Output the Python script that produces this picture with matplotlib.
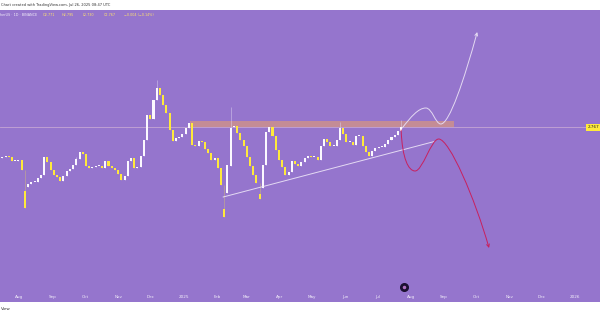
import matplotlib
matplotlib.use('Agg')
import matplotlib.pyplot as plt
import matplotlib.dates as mdates
from matplotlib.path import Path
from matplotlib.patches import FancyArrowPatch, Rectangle
import numpy as np
import pandas as pd

# 3-day candles (closes), first candle starts 2024-07-13
candle_start = '2024-07-13'
candle_step_days = 3
first_open = 2.47
closes = [
    2.46, 2.47, 2.48, 2.47, 2.43, 2.43, 2.44, 2.34, 2.17, 2.20,
    2.22, 2.22, 2.26, 2.29, 2.47, 2.42, 2.34, 2.29, 2.27, 2.23,
    2.28, 2.33, 2.35, 2.39, 2.45, 2.52, 2.50, 2.38, 2.36, 2.37,
    2.38, 2.38, 2.36, 2.43, 2.38, 2.36, 2.34, 2.30, 2.24, 2.28,
    2.43, 2.46, 2.36, 2.37, 2.48, 2.64, 2.89, 2.85, 3.04, 3.16,
    3.09, 2.99, 2.91, 2.74, 2.63, 2.66, 2.67, 2.70, 2.76, 2.81,
    2.59, 2.58, 2.63, 2.62, 2.55, 2.51, 2.44, 2.46, 2.36, 2.19,
    2.11, 2.39, 2.77, 2.78, 2.71, 2.64, 2.58, 2.47, 2.38, 2.29,
    2.21, 2.16, 2.39, 2.72, 2.77, 2.68, 2.54, 2.44, 2.37, 2.29,
    2.32, 2.43, 2.40, 2.38, 2.42, 2.46, 2.48, 2.47, 2.47, 2.44,
    2.58, 2.65, 2.62, 2.58, 2.58, 2.64, 2.76, 2.70, 2.62, 2.62,
    2.59, 2.68, 2.68, 2.58, 2.52, 2.48, 2.53, 2.56, 2.57, 2.57,
    2.60, 2.64, 2.67, 2.69, 2.73, 2.77, 2.767,
]
# long wicks that stand out
spike_idx = [8, 24, 49, 70, 72, 81, 106, 125]
spike_high = [2.20, 2.47, 3.24, 2.19, 2.97, 2.21, 2.82, 2.84]
spike_low = [1.96, 2.42, 3.09, 1.87, 2.38, 2.05, 2.70, 2.73]

last_price = 2.767
header_ticker = 'herUS · 1D · BINANCE'
header_values = ['O2.771', 'H2.795', 'L2.730', 'C2.767', '−0.004 (−0.14%)']

# resistance zone and drawings
zone_dates = ['2025-01-07', '2025-09-10']
zone_prices = [2.77, 2.83]
trend_dates = ['2025-02-07', '2025-08-23']
trend_prices = [2.07, 2.625]
# bullish / bearish projections (cubic bezier control points)
bull_dates = ['2025-07-24', '2025-08-01', '2025-08-08', '2025-08-15',
              '2025-08-21', '2025-08-24', '2025-08-29',
              '2025-09-06', '2025-09-20', '2025-10-02']
bull_prices = [2.76, 2.87, 2.96, 2.96, 2.96, 2.80, 2.80, 2.80, 3.25, 3.72]
bear_dates = ['2025-07-23', '2025-07-24', '2025-07-30', '2025-08-05',
              '2025-08-12', '2025-08-20', '2025-08-27',
              '2025-09-06', '2025-09-30', '2025-10-13']
bear_prices = [2.74, 2.45, 2.33, 2.33, 2.33, 2.65, 2.65, 2.65, 2.05, 1.56]

month_starts = pd.date_range('2024-08-01', '2026-01-01', freq='MS')

bg = '#9575CD'
up_col = '#FBF8FF'
down_col = '#FFE93B'

fig = plt.figure(figsize=(6, 3.15), dpi=100, facecolor='white')
ax = fig.add_axes([0, 13 / 315, 1, 292 / 315])
ax.set_facecolor(bg)
for s in ax.spines.values():
    s.set_visible(False)
ax.set_xticks([])
ax.set_yticks([])

x0 = mdates.date2num(pd.Timestamp('2024-08-01'))
ax.set_xlim(x0 - 18.2, x0 + 541.5)
ax.set_ylim(1.02, 3.94)

# candles
dates = pd.date_range(candle_start, periods=len(closes), freq=f'{candle_step_days}D')
xs = mdates.date2num(dates)
c = np.array(closes)
o = np.concatenate([[first_open], c[:-1]])
hi = np.maximum(o, c)
lo = np.minimum(o, c)
for i, h, l in zip(spike_idx, spike_high, spike_low):
    hi[i] = max(hi[i], h)
    lo[i] = min(lo[i], l)
up = c >= o
body = np.where(np.abs(c - o) < 0.006, 0.006, np.abs(c - o))
ax.vlines(xs[up], lo[up], hi[up], color='#E6DDF5', lw=0.6, alpha=0.5, zorder=3)
ax.vlines(xs[~up], lo[~up], hi[~up], color='#D8C270', lw=0.6, alpha=0.5, zorder=3)
ax.bar(xs[up], body[up], bottom=lo[up], width=1.9, color=up_col, linewidth=0, zorder=4)
ax.bar(xs[~up], body[~up], bottom=lo[~up], width=1.9, color=down_col, linewidth=0, zorder=4)

# last price line and label
ax.axhline(last_price, color='#D2B2D6', lw=0.6, alpha=0.8, zorder=1)
ax.text(0.999, last_price, f'{last_price:.3f}', transform=ax.get_yaxis_transform(),
        ha='right', va='center', fontsize=3, color='#222', zorder=6,
        bbox=dict(boxstyle='square,pad=0.35', facecolor='#FFEB3B', edgecolor='none'))

# resistance zone
zx = mdates.date2num(pd.to_datetime(zone_dates))
ax.add_patch(Rectangle((zx[0], zone_prices[0]), zx[1] - zx[0], zone_prices[1] - zone_prices[0],
                       facecolor='#F4A460', alpha=0.5, edgecolor='none', zorder=2))

# rising trend line
tx = mdates.date2num(pd.to_datetime(trend_dates))
ax.plot(tx, trend_prices, color='#F2ECFA', lw=0.7, alpha=0.85, zorder=5)


def bezier_arrow(dates_, prices_, color):
    px = mdates.date2num(pd.to_datetime(dates_))
    verts = list(zip(px, prices_))
    codes = [Path.MOVETO] + [Path.CURVE4] * (len(verts) - 1)
    arr = FancyArrowPatch(path=Path(verts, codes), arrowstyle='->', mutation_scale=5,
                          color=color, lw=0.7, zorder=5)
    ax.add_patch(arr)


bezier_arrow(bull_dates, bull_prices, '#E4DAF2')
bezier_arrow(bear_dates, bear_prices, '#C8205E')

# time axis labels
for d in month_starts:
    lab = str(d.year) if d.month == 1 else d.strftime('%b')
    ax.text(mdates.date2num(d), 1.07, lab, ha='center', va='center',
            fontsize=3, color='#F3EEFA')

# event marker
ax.plot(mdates.date2num(pd.Timestamp('2025-07-26')), 1.17, 'o', ms=5.5,
        color='#1C1030', zorder=6)
ax.plot(mdates.date2num(pd.Timestamp('2025-07-26')), 1.17, 'o', ms=1.5,
        color='#B070C0', zorder=7)

# header texts
fig.text(1 / 600, 1 - 5 / 315, 'Chart created with TradingView.com, Jul 26, 2025 08:47 UTC',
         fontsize=2.6, color='#333', va='center', ha='left')
fig.text(0, 1 - 15 / 315, header_ticker, fontsize=2.4, color='#F3EEFA', va='center')
for xp, t in zip([43, 62, 83, 104, 124], header_values):
    fig.text(xp / 600, 1 - 15 / 315, t, fontsize=2.4, color='#FFE36E', va='center')
fig.text(1 / 600, 1 - 309 / 315, 'View', fontsize=3, color='#333', va='center')

fig.savefig('out.png', dpi=100, facecolor='white')
plt.close(fig)
